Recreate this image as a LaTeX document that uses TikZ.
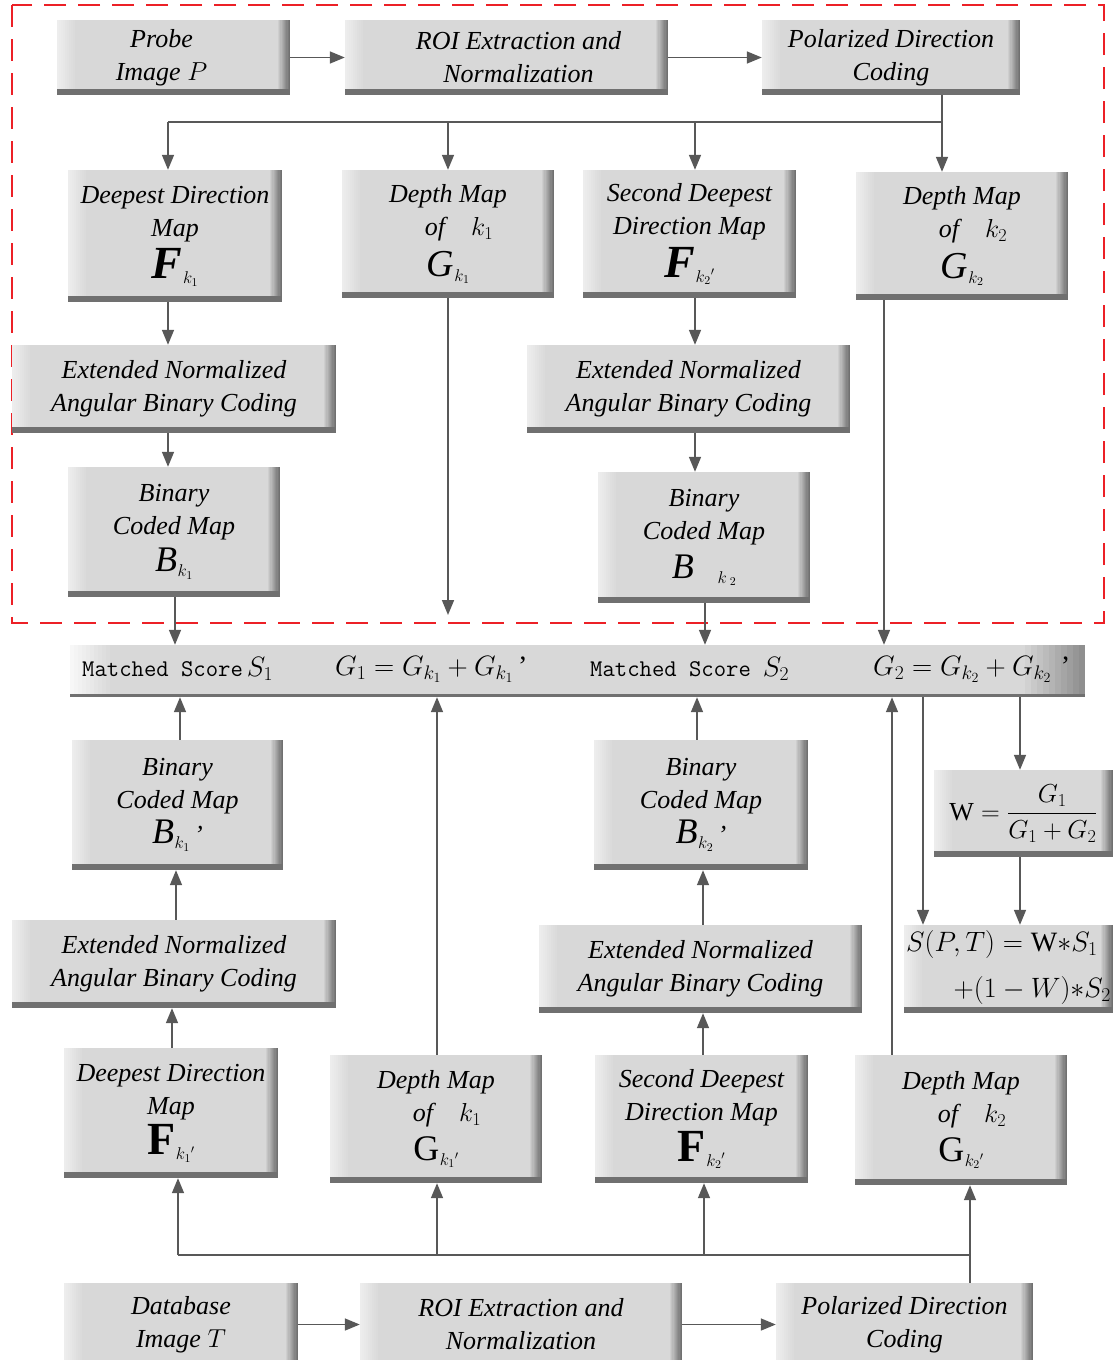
\RequirePackage{fix-cm}
\documentclass[tikz,border=0pt]{standalone}
\usepackage{amsmath}
\usepackage{fontspec}
\setmainfont{Liberation Serif}
\usetikzlibrary{arrows.meta,calc}
\definecolor{boxgray}{RGB}{216,216,216}
\definecolor{edgedark}{RGB}{112,112,112}
\definecolor{arrgray}{RGB}{88,88,88}
\definecolor{dashred}{RGB}{236,32,38}
\newcommand{\bx}[6]{\node[bx, minimum width={(#4-#2)*1pt}, minimum height={(#5-#3)*1pt}] (#1) at ({(#2+#4)/2},{(#3+#5)/2}) {#6};}
\newcommand{\subk}[1]{\raisebox{-5pt}{\fontsize{17}{17}\selectfont$#1$}}
\newcommand{\FF}[1]{{\fontsize{46}{46}\selectfont\bfseries\itshape F}\kern0.5pt\subk{#1}}
\newcommand{\FFu}[1]{{\fontsize{46}{46}\selectfont\bfseries\upshape F}\kern0.5pt\subk{#1}}
\newcommand{\GG}[1]{{\fontsize{38}{38}\selectfont\itshape G}\kern0.5pt\subk{#1}}
\newcommand{\GGu}[1]{{\fontsize{36}{36}\selectfont\upshape G}\kern0.5pt\subk{#1}}
\newcommand{\BB}[1]{{\fontsize{36}{36}\selectfont\itshape B}\kern0.5pt\subk{#1}}
\tikzset{
  bx/.style={inner sep=0pt, align=center, fill=boxgray,
    font=\fontsize{26}{33}\selectfont\itshape,
    path picture={
      \foreach \i [evaluate=\i as \p using int(45+6*\i)] in {0,...,9}
        \fill[boxgray!\p!white] ([xshift=\i*2pt]path picture bounding box.south west) rectangle ([xshift=\i*2pt+2.2pt]path picture bounding box.north west);
      \foreach \i [evaluate=\i as \p using int(10*\i)] in {0,...,10}
        \fill[edgedark!\p!boxgray] ([xshift=-13.2pt+\i*1.2pt]path picture bounding box.south east) rectangle ([xshift=-12pt+\i*1.2pt]path picture bounding box.north east);
      \fill[edgedark] (path picture bounding box.south west) rectangle ([yshift=6pt]path picture bounding box.south east);
    }},
  barsty/.style={inner sep=0pt, fill=boxgray,
    path picture={
      \foreach \i [evaluate=\i as \p using int(20+8*\i)] in {0,...,10}
        \fill[boxgray!\p!white] ([xshift=\i*4pt]path picture bounding box.south west) rectangle ([xshift=\i*4pt+4.2pt]path picture bounding box.north west);
      \foreach \i [evaluate=\i as \p using int(7*\i)] in {0,...,10}
        \fill[edgedark!\p!boxgray] ([xshift=-66pt+\i*6pt]path picture bounding box.south east) rectangle ([xshift=-59.8pt+\i*6pt]path picture bounding box.north east);
      \fill[edgedark] (path picture bounding box.south west) rectangle ([yshift=3pt]path picture bounding box.south east);
    }},
  txt/.style={inner sep=0pt, font=\fontsize{28}{30}\selectfont},
  mono/.style={inner sep=0pt, font=\fontsize{24}{26}\selectfont\ttfamily},
  arr/.style={draw=arrgray, line width=1.6pt, -{Triangle[length=15pt,width=12pt]}},
  ln/.style={draw=arrgray, line width=1.6pt},
}
\begin{document}
\begin{tikzpicture}[x=1pt,y=-1pt]
\useasboundingbox[fill=white] (0,0) rectangle (1117,1360);
% dashed region
\draw[dashred, line width=2.6pt, dash pattern=on 22pt off 12pt] (12,5) rectangle (1104,623);
% top row
\bx{probe}{57}{20}{290}{95}{Probe\hspace*{24pt}\\Image $P$\hspace*{24pt}}
\bx{roi}{345}{20}{668}{95}{\hspace*{24pt}ROI Extraction and\\\hspace*{24pt}Normalization}
\bx{pdc}{762}{20}{1020}{95}{Polarized Direction\\Coding}
% second row
\bx{dd1}{68}{170}{282}{302}{Deepest Direction\\Map\\[6pt]\FF{k_1}}
\bx{dm1}{342}{170}{554}{298}{Depth Map\\\hspace*{22pt}of\quad$k_1$\\[8pt]\GG{k_1}}
\bx{sd1}{583}{170}{796}{298}{Second Deepest\\Direction Map\\[6pt]\FF{k_2{}'}}
\bx{dm2}{856}{172}{1068}{300}{Depth Map\\\hspace*{22pt}of\quad$k_2$\\[8pt]\GG{k_2}}
\bx{ex1}{12}{345}{336}{433}{Extended Normalized\\Angular Binary Coding}
\bx{ex2}{527}{345}{850}{433}{Extended Normalized\\Angular Binary Coding}
\bx{bn1}{68}{467}{280}{597}{Binary\\Coded Map\\[4pt]\BB{k_1}}
\bx{bn2}{598}{472}{810}{603}{Binary\\Coded Map\\[6pt]{\fontsize{36}{36}\selectfont\itshape B}\hspace{24pt}\subk{k\,_2}}
% matched score bar
\node[barsty, minimum width=1015pt, minimum height=52pt] (bar) at (577.5,671) {};
\node[mono, anchor=west] (ms1) at (82,669) {Matched Score\,\fontsize{28}{30}\selectfont$S_1$};
\node[txt, anchor=west] (g1) at (335,669) {$G_1=G_{k_1}+G_{k_1}$\,'};
\node[mono, anchor=west] (ms2) at (590,669) {Matched Score\enspace\fontsize{28}{30}\selectfont$S_2$};
\node[txt, anchor=west] (g2) at (873,669) {$G_2=G_{k_2}+G_{k_2}$\,\,'};
% lower half
\bx{bn3}{72}{740}{283}{870}{Binary\\Coded Map\\[2pt]\BB{k_1}\,'}
\bx{bn4}{594}{740}{808}{870}{Binary\\Coded Map\\[2pt]\BB{k_2}\,'}
\bx{wb}{934}{770}{1113}{857}{\fontsize{26}{30}\selectfont$\mathrm{W}=\dfrac{G_1}{G_1+G_2}$}
\bx{sp}{904}{925}{1113}{1013}{}
\node[txt, anchor=west] (sptop) at (906,944) {$S(P,T)=\mathrm{W}{*}S_1$};
\node[txt, anchor=east] (spbot) at (1111,990) {$+(1-W){*}S_2$};
\bx{ex3}{12}{920}{336}{1008}{Extended Normalized\\Angular Binary Coding}
\bx{ex4}{539}{925}{862}{1013}{Extended Normalized\\Angular Binary Coding}
\bx{dd3}{64}{1048}{278}{1178}{Deepest Direction\\Map\\[4pt]\FFu{k_1{}'}}
\bx{dm3}{330}{1055}{542}{1183}{Depth Map\\\hspace*{22pt}of\quad$k_1$\\[6pt]\GGu{k_1{}'}}
\bx{sd3}{595}{1055}{808}{1183}{Second Deepest\\Direction Map\\[4pt]\FFu{k_2{}'}}
\bx{dm4}{855}{1055}{1067}{1185}{Depth Map\\\hspace*{22pt}of\quad$k_2$\\[6pt]\GGu{k_2{}'}}
\bx{db}{64}{1283}{298}{1366}{Database\\Image $T$}
\bx{roi2}{360}{1283}{682}{1366}{ROI Extraction and\\Normalization}
\bx{pdc2}{776}{1283}{1033}{1366}{Polarized Direction\\Coding}
% ---- connectors, top
\draw[arr] (probe.east) -- (probe.east -| roi.west);
\draw[arr] (roi.east) -- (roi.east -| pdc.west);
\coordinate (bR) at (942,122);
\coordinate (bL) at (168,122);
\coordinate (b2) at (448,122);
\coordinate (b3) at (695,122);
\draw[ln] (pdc.south -| bR) -- (bR) -- (bL);
\draw[arr] (bL) -- (bL |- dd1.north);
\draw[arr] (b2) -- (b2 |- dm1.north);
\draw[arr] (b3) -- (b3 |- sd1.north);
\draw[arr] (bR) -- (bR |- dm2.north);
\draw[arr] (dd1.south -| bL) -- (bL |- ex1.north);
\draw[arr] (ex1.south -| bL) -- (bL |- bn1.north);
\coordinate (dm1e) at (448,615);
\draw[arr] (dm1.south -| dm1e) -- (dm1e);
\draw[arr] (sd1.south -| b3) -- (b3 |- ex2.north);
\draw[arr] (ex2.south -| b3) -- (b3 |- bn2.north);
\coordinate (x1) at (175,0);
\draw[arr] (bn1.south -| x1) -- (bar.north -| x1);
\coordinate (x2) at (705,0);
\draw[arr] (bn2.south -| x2) -- (bar.north -| x2);
\coordinate (x4) at (884,0);
\draw[arr] (dm2.south -| x4) -- (bar.north -| x4);
% ---- connectors, lower
\coordinate (x3) at (180,0);
\draw[arr] (bn3.north -| x3) -- (bar.south -| x3);
\coordinate (x10) at (437,0);
\draw[arr] (dm3.north -| x10) -- (bar.south -| x10);
\coordinate (x11) at (697,0);
\draw[arr] (bn4.north -| x11) -- (bar.south -| x11);
\coordinate (x5) at (892,0);
\draw[arr] (dm4.north -| x5) -- (bar.south -| x5);
\coordinate (x6) at (923,0);
\draw[arr] (bar.south -| x6) -- (sp.north -| x6);
\coordinate (x7) at (1020,0);
\draw[arr] (bar.south -| x7) -- (wb.north -| x7);
\draw[arr] (wb.south -| x7) -- (sp.north -| x7);
\coordinate (x8) at (176,0);
\draw[arr] (ex3.north -| x8) -- (bn3.south -| x8);
\coordinate (x12) at (172,0);
\draw[arr] (dd3.north -| x12) -- (ex3.south -| x12);
\coordinate (x9) at (703,0);
\draw[arr] (ex4.north -| x9) -- (bn4.south -| x9);
\draw[arr] (sd3.north -| x9) -- (ex4.south -| x9);
\coordinate (cL) at (178,1255);
\coordinate (cR) at (970,1255);
\coordinate (c2) at (437,1255);
\coordinate (c3) at (704,1255);
\draw[ln] (pdc2.north -| cR) -- (cR) -- (cL);
\draw[arr] (cL) -- (cL |- dd3.south);
\draw[arr] (c2) -- (c2 |- dm3.south);
\draw[arr] (c3) -- (c3 |- sd3.south);
\draw[arr] (cR) -- (cR |- dm4.south);
\draw[arr] (db.east) -- (db.east -| roi2.west);
\draw[arr] (roi2.east) -- (roi2.east -| pdc2.west);
\end{tikzpicture}
\end{document}
